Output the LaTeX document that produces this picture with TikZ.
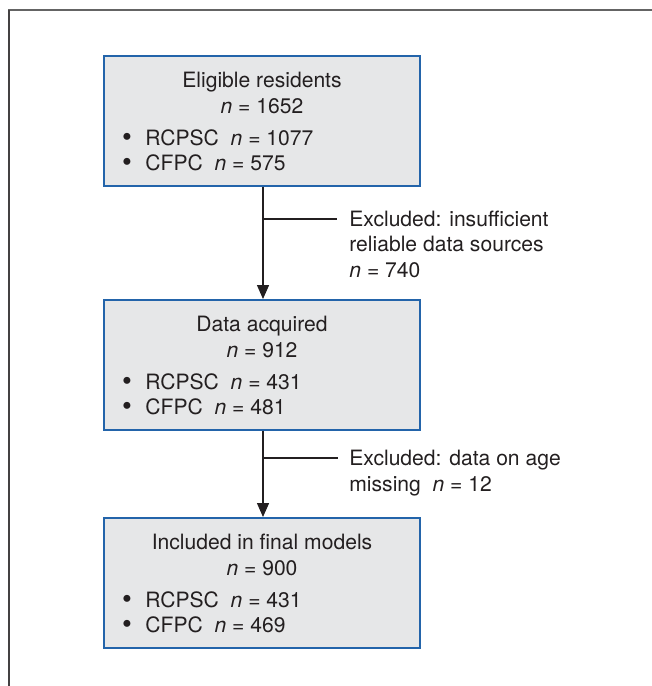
\documentclass[tikz,border=0pt]{standalone}
\usepackage{fontspec}
\setmainfont{TeX Gyre Heros}
\usetikzlibrary{arrows.meta}
\definecolor{boxblue}{RGB}{35,100,170}
\definecolor{boxfill}{RGB}{230,231,232}
\definecolor{ink}{RGB}{35,31,32}
\definecolor{framegray}{RGB}{100,100,100}
\tikzset{
  flowbox/.style={draw=boxblue, fill=boxfill, line width=0.75pt, minimum width=158pt, minimum height=65pt, inner sep=0pt, anchor=north},
  txt/.style={inner sep=0pt, text=ink, font=\fontsize{10.55}{12.8}\selectfont},
  ctxt/.style={txt, anchor=base},
  btxt/.style={txt, anchor=base west},
  bul/.style={inner sep=0pt, text=ink, font=\fontsize{14}{14}\selectfont, anchor=base},
  arr/.style={draw=ink, line width=0.7pt, -{Triangle[length=7pt,width=6pt]}},
  branch/.style={draw=ink, line width=0.7pt},
}
\newcommand{\nn}{\textit{n}}
\begin{document}
\begin{tikzpicture}[x=0.5pt,y=-0.5pt]
\useasboundingbox (0,0) rectangle (652,686);
% frame
\draw[framegray, line width=1pt] (8,10) -- (652,10);
\draw[ink!85, line width=1pt] (8.5,10) -- (8.5,686);

% boxes
\node[flowbox] (b1) at (262,55) {};
\node[flowbox] (b2) at (262,299) {};
\node[flowbox] (b3) at (262,517) {};

% box 1 text
\node[ctxt] (b1t) at (262,87) {Eligible residents};
\node[ctxt] (b1n) at (262,113) {\nn{} = 1652};
\node[bul] (b1p) at (127,146) {•};
\node[btxt] (b1r) at (145,145) {RCPSC\ \ \nn{} = 1077};
\node[bul] (b1q) at (127,171) {•};
\node[btxt] (b1c) at (145,170) {CFPC\ \ \nn{} = 575};

% box 2 text
\node[ctxt] (b2t) at (262,331) {Data acquired};
\node[ctxt] (b2n) at (262,357) {\nn{} = 912};
\node[bul] (b2p) at (127,390) {•};
\node[btxt] (b2r) at (145,389) {RCPSC\ \ \nn{} = 431};
\node[bul] (b2q) at (127,415) {•};
\node[btxt] (b2c) at (145,414) {CFPC\ \ \nn{} = 481};

% box 3 text
\node[ctxt] (b3t) at (262,549) {Included in final models};
\node[ctxt] (b3n) at (262,575) {\nn{} = 900};
\node[bul] (b3p) at (127,608) {•};
\node[btxt] (b3r) at (145,607) {RCPSC\ \ \nn{} = 431};
\node[bul] (b3q) at (127,633) {•};
\node[btxt] (b3c) at (145,632) {CFPC\ \ \nn{} = 469};

% exclusion labels
\node[btxt] (e1a) at (349,226) {Excluded: insufficient};
\node[btxt] (e1b) at (349,251.5) {reliable data sources};
\node[btxt] (e1c) at (349,277) {\nn{} = 740};
\node[btxt] (e2a) at (349,465) {Excluded: data on age};
\node[btxt] (e2b) at (349,491) {missing\ \ \nn{} = 12};

% connectors
\draw[arr] ([xshift=0.5]b1.south) -- ([xshift=0.5]b2.north);
\draw[arr] ([xshift=0.5]b2.south) -- ([xshift=0.5]b3.north);
\coordinate (j1) at (262.5,219);
\coordinate (j2) at (262.5,458);
\coordinate (k1) at (337,219);
\coordinate (k2) at (338,458);
\draw[branch] (j1) -- (k1);
\draw[branch] (j2) -- (k2);
\end{tikzpicture}
\end{document}
